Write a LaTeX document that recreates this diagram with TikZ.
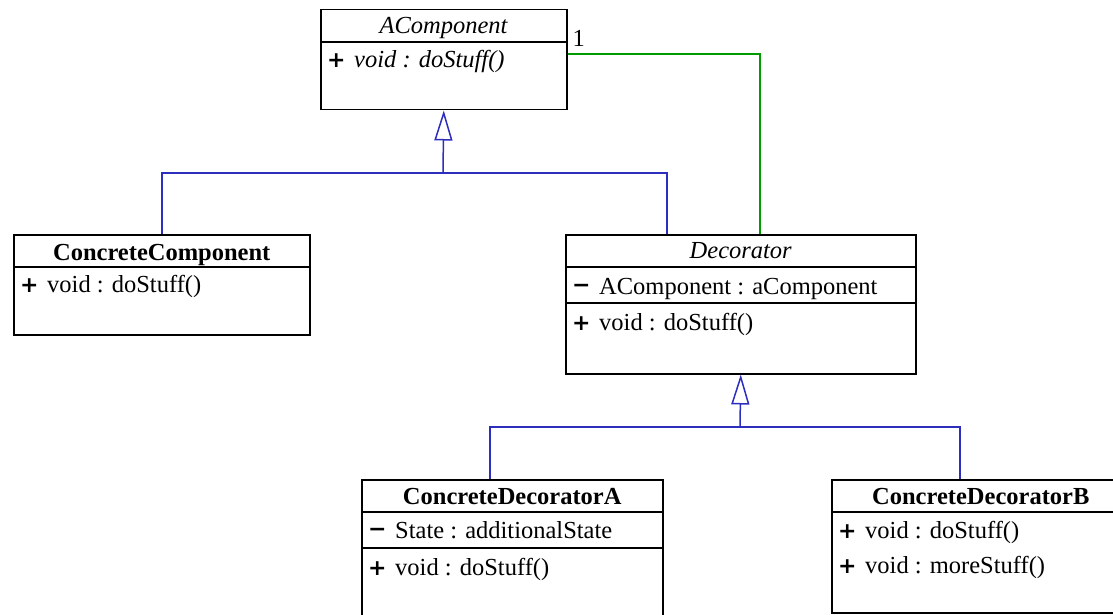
\documentclass[tikz,border=0pt]{standalone}
\usepackage{fontspec}
\setmainfont{Liberation Serif}
\newfontfamily\symfont{DejaVu Sans}
\usetikzlibrary{arrows.meta}

\definecolor{genblue}{RGB}{45,45,190}
\definecolor{assocgreen}{RGB}{0,155,0}

\tikzset{
  classbox/.style={draw, line width=1.5pt, anchor=north west, inner sep=0pt},
  classname/.style={anchor=base, inner sep=0pt},
  member/.style={anchor=base west, inner sep=0pt},
  divider/.style={line width=1.5pt},
  genline/.style={draw=genblue, line width=1.5pt},
  gentip/.style={-{Triangle[open, fill=white, length=30pt, width=18pt, line width=1.5pt]}},
  assocline/.style={draw=assocgreen, line width=1.5pt},
  mult/.style={anchor=base west, inner sep=0pt}
}
\newcommand{\pub}{\makebox[27pt][l]{\symfont\bfseries\fontsize{22}{24}\selectfont +}}
\newcommand{\priv}{\makebox[27pt][l]{\raisebox{2pt}{\symfont\bfseries\fontsize{22}{24}\selectfont −}}}

\begin{document}
\begin{tikzpicture}[x=1pt, y=-1pt, font=\fontsize{24.5}{28}\selectfont]
  \useasboundingbox (0,0) rectangle (1113,615);
  \clip (0,0) rectangle (1113,615);

  % classes
  \node[classbox, minimum width=246pt, minimum height=100pt] (acomp) at (320,9) {};
  \node[classname] (acompname) at ([yshift=-25]acomp.north) {\textit{AComponent}};
  \draw[divider] ([yshift=-33]acomp.north west) -- ([yshift=-33]acomp.north east);
  \node[member] (acompop) at ([xshift=7,yshift=-59]acomp.north west) {\pub\textit{void : doStuff()}};

  \node[classbox, minimum width=296pt, minimum height=100pt] (cc) at (13,234) {};
  \node[classname] (ccname) at ([yshift=-26]cc.north) {\textbf{ConcreteComponent}};
  \draw[divider] ([yshift=-33]cc.north west) -- ([yshift=-33]cc.north east);
  \node[member] (ccop) at ([xshift=7,yshift=-58]cc.north west) {\pub void : doStuff()};

  \node[classbox, minimum width=350pt, minimum height=139pt] (deco) at (565,234) {};
  \node[classname] (deconame) at ([yshift=-24]deco.north) {\textit{Decorator}};
  \draw[divider] ([yshift=-33]deco.north west) -- ([yshift=-33]deco.north east);
  \draw[divider] ([yshift=-69]deco.north west) -- ([yshift=-69]deco.north east);
  \node[member] (decoattr) at ([xshift=7,yshift=-60]deco.north west) {\priv AComponent : aComponent};
  \node[member] (decoop) at ([xshift=7,yshift=-96]deco.north west) {\pub void : doStuff()};

  \node[classbox, minimum width=301pt, minimum height=150pt] (cda) at (361,479) {};
  \node[classname] (cdaname) at ([yshift=-25]cda.north) {\textbf{ConcreteDecoratorA}};
  \draw[divider] ([yshift=-33]cda.north west) -- ([yshift=-33]cda.north east);
  \draw[divider] ([yshift=-69]cda.north west) -- ([yshift=-69]cda.north east);
  \node[member] (cdaattr) at ([xshift=7,yshift=-59]cda.north west) {\priv State : additionalState};
  \node[member] (cdaop) at ([xshift=7,yshift=-96]cda.north west) {\pub void : doStuff()};

  \node[classbox, minimum width=320pt, minimum height=133pt] (cdb) at (831,479) {};
  \node[classname] (cdbname) at ([xshift=-11,yshift=-25]cdb.north) {\textbf{ConcreteDecoratorB}};
  \draw[divider] ([yshift=-33]cdb.north west) -- ([yshift=-33]cdb.north east);
  \node[member] (cdbop) at ([xshift=7,yshift=-59]cdb.north west) {\pub void : doStuff()};
  \node[member] (cdbop2) at ([xshift=7,yshift=-94]cdb.north west) {\pub void : moreStuff()};

  % inheritance
  \coordinate (genbar) at (443,173);
  \draw[genline] (cc.north) |- (genbar) -| ([xshift=102]deco.north west);
  \draw[genline, gentip] (genbar) -- (acomp.south);

  \coordinate (genbarb) at (740,427);
  \draw[genline] ([xshift=129]cda.north west) |- (genbarb) -| ([xshift=129]cdb.north west);
  \draw[genline, gentip] (genbarb) -- (deco.south);

  % association
  \draw[assocline] ([yshift=-45]acomp.north east) -| ([xshift=195]deco.north west);
  \node[mult] (multone) at ([xshift=5,yshift=-38]acomp.north east) {1};
\end{tikzpicture}
\end{document}
